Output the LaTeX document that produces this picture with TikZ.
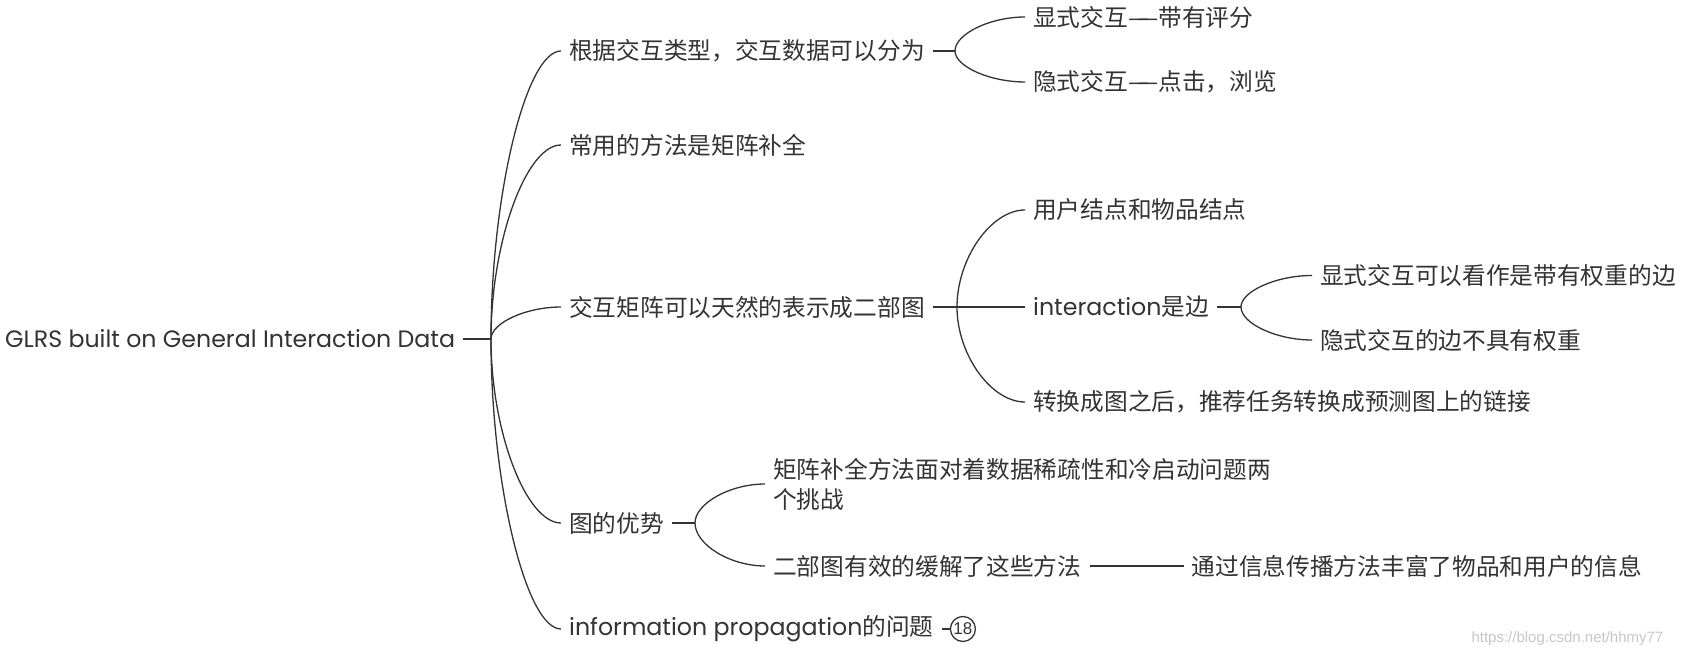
\documentclass[tikz,border=0pt]{standalone}
\usepackage{fontspec}
\setmainfont{Noto Sans CJK SC}
\newfontfamily\latin{Poppins}
\newfontfamily\wmfont{Liberation Sans}
\usetikzlibrary{calc,positioning}
\definecolor{ink}{HTML}{333333}

\begin{document}
\begin{tikzpicture}[x=1pt,y=1pt,
    topic/.style={anchor=west,inner xsep=8pt,inner ysep=2pt,text=ink,
      font=\fontsize{23.7}{30}\selectfont},
    link/.style={draw=ink,line width=1.3pt},
    branch/.style={to path={.. controls ($(\tikztostart)!0.5!(\tikztostart|-\tikztotarget)$)
      and ($(\tikztostart|-\tikztotarget)!0.5!(\tikztotarget)$) .. (\tikztotarget)}}]
    \useasboundingbox (0,0) rectangle (1682,655);
    % root
    \node[topic] (root) at (-3,316) {\latin GLRS built on General Interaction Data};
    \coordinate (b-root) at (491,316);
    % first level
    \node[topic] (type) at (561,604) {根据交互类型，交互数据可以分为};
    \node[topic] (mc) at (561,510) {常用的方法是矩阵补全};
    \node[topic] (bip) at (561,348) {交互矩阵可以天然的表示成二部图};
    \node[topic] (adv) at (561,132) {图的优势};
    \node[topic] (prop) at (561,26) {{\latin information propagation}的问题};
    \node[draw=ink,line width=1.3pt,circle,minimum size=25pt,inner sep=0pt,
      text=ink,font=\wmfont\fontsize{17}{17}\selectfont,right=8pt of prop] (cnt) {18};
    % interaction types
    \coordinate (b-type) at (955,604);
    \node[topic] (type-exp) at (1025,638) {显式交互—\kern-.5em—带有评分};
    \node[topic] (type-imp) at (1025,573) {隐式交互—\kern-.5em—点击，浏览};
    % bipartite graph
    \coordinate (b-bip) at (957,348);
    \node[topic] (bip-node) at (1025,445) {用户结点和物品结点};
    \node[topic] (bip-edge) at (1025,348) {{\latin interaction}是边};
    \node[topic] (bip-link) at (1025,253) {转换成图之后，推荐任务转换成预测图上的链接};
    \coordinate (b-edge) at (1241,348);
    \node[topic] (edge-exp) at (1312,379.5) {显式交互可以看作是带有权重的边};
    \node[topic] (edge-imp) at (1312,315) {隐式交互的边不具有权重};
    % advantages
    \coordinate (b-adv) at (695,132);
    \node[topic,align=left] (adv-chal) at (765,171) {矩阵补全方法面对着数据稀疏性和冷启动问题两\\个挑战};
    \node[topic] (adv-ease) at (765,89) {二部图有效的缓解了这些方法};
    \node[topic,right=94pt of adv-ease] (adv-info) {通过信息传播方法丰富了物品和用户的信息};
    % watermark
    \node[anchor=west,text=black!22,font=\wmfont\fontsize{15}{15}\selectfont] (mark) at (1468,16) {https://blog.csdn.net/hhmy77};

    \draw[link] (root.east) -- (b-root);
    \foreach \t in {type,mc,bip,adv,prop}
        \draw[link] (b-root) to[branch] (\t.west);
    \draw[link] (type.east) -- (b-type);
    \foreach \t in {type-exp,type-imp}
        \draw[link] (b-type) to[branch] (\t.west);
    \draw[link] (bip.east) -- (b-bip);
    \foreach \t in {bip-node,bip-edge,bip-link}
        \draw[link] (b-bip) to[branch] (\t.west);
    \draw[link] (bip-edge.east) -- (b-edge);
    \foreach \t in {edge-exp,edge-imp}
        \draw[link] (b-edge) to[branch] (\t.west);
    \draw[link] (adv.east) -- (b-adv);
    \foreach \t in {adv-chal,adv-ease}
        \draw[link] (b-adv) to[branch] (\t.west);
    \draw[link] (adv-ease) -- (adv-info);
    \draw[link] (prop) -- (cnt);
\end{tikzpicture}
\end{document}
